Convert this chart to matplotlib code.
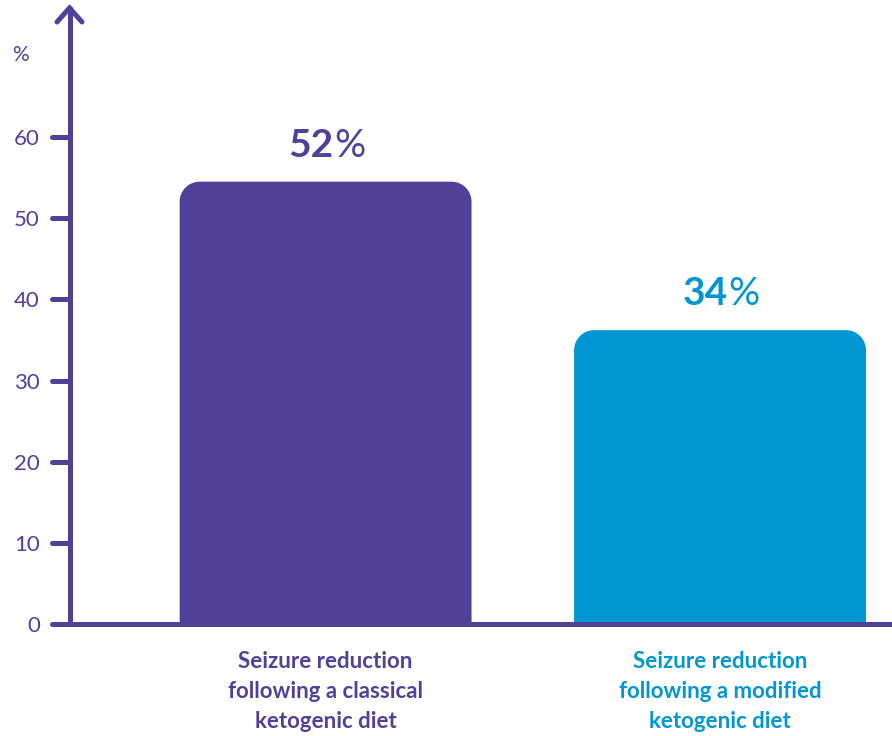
import matplotlib
matplotlib.use('Agg')
import matplotlib.pyplot as plt
from matplotlib.path import Path
from matplotlib.patches import PathPatch
from matplotlib.lines import Line2D

plt.rcParams['font.family'] = ['Lato', 'DejaVu Sans']

# data
categories = ['Seizure reduction\nfollowing a classical\nketogenic diet',
              'Seizure reduction\nfollowing a modified\nketogenic diet']
bar_heights = [54.5, 36.2]
value_labels = ['52', '34']
yticks = [0, 10, 20, 30, 40, 50, 60]

purple = '#51409A'
blue = '#0096D3'
colors = [purple, blue]

W, H = 892, 736
fig = plt.figure(figsize=(W / 100, H / 100), dpi=100)
ax = fig.add_axes([70 / W, 112 / H, 822 / W, 616 / H])

x = [0, 1]
bars = ax.bar(x, bar_heights, width=0.74, color=colors)
ax.set_xlim(-0.648, 1.436)
ax.set_ylim(0, 75.9)

# rounded top corners (about 20 px)
px_x = 394.5      # pixels per x unit
px_y = 8.117      # pixels per y unit
rx, ry = 20 / px_x, 20 / px_y
k = 0.5523
for b in bars:
    x0, y0 = b.get_x(), b.get_y()
    x1, y1 = x0 + b.get_width(), y0 + b.get_height()
    verts = [(x0, y0), (x0, y1 - ry),
             (x0, y1 - ry + k * ry), (x0 + rx - k * rx, y1), (x0 + rx, y1),
             (x1 - rx, y1),
             (x1 - rx + k * rx, y1), (x1, y1 - ry + k * ry), (x1, y1 - ry),
             (x1, y0), (x0, y0)]
    codes = [Path.MOVETO, Path.LINETO,
             Path.CURVE4, Path.CURVE4, Path.CURVE4,
             Path.LINETO,
             Path.CURVE4, Path.CURVE4, Path.CURVE4,
             Path.LINETO, Path.CLOSEPOLY]
    ax.add_patch(PathPatch(Path(verts, codes), facecolor=b.get_facecolor(),
                           edgecolor='none', zorder=2))
    b.set_visible(False)

# value labels: bold number + lighter percent sign
for xi, h, lab, c in zip(x, bar_heights, value_labels, colors):
    ax.annotate(lab, (xi, h), xytext=(7.5, 25), textcoords='offset pixels',
                ha='right', va='baseline', fontsize=28, fontweight='bold', color=c)
    ax.annotate('%', (xi, h), xytext=(8.5, 25), textcoords='offset pixels',
                ha='left', va='baseline', fontsize=28, fontweight='normal', color=c)

# category labels under the axis
for xi, cat, c in zip(x, categories, colors):
    for j, line in enumerate(cat.split('\n')):
        ax.annotate(line, (xi, 0), xytext=(0, -(37 + 30 * j)), textcoords='offset pixels',
                    ha='center', va='center', fontsize=16, fontweight='bold', color=c,
                    annotation_clip=False)

# axes styling
for s in ['top', 'right']:
    ax.spines[s].set_visible(False)
for s in ['left', 'bottom']:
    ax.spines[s].set_color(purple)
    ax.spines[s].set_linewidth(3.6)
    ax.spines[s].set_capstyle('round')
ax.set_xticks([])
ax.set_yticks(yticks)
ax.tick_params(axis='y', length=0, pad=21.6, labelsize=16, labelcolor=purple)

tr = ax.get_yaxis_transform()
for v in yticks:
    ax.plot([-18 / 822, 0], [v, v], transform=tr, color=purple, lw=3.6,
            solid_capstyle='round', clip_on=False)

# arrow head at top of y axis
fig.add_artist(Line2D([57 / W, 69.5 / W, 82 / W], [1 - 22 / H, 1 - 8 / H, 1 - 22 / H],
                      transform=fig.transFigure, color=purple, lw=3.6,
                      solid_capstyle='round', solid_joinstyle='miter'))

fig.text(20 / W, 1 - 55 / H, '%', ha='center', va='center', fontsize=15,
         color=purple)

fig.savefig('out.png', dpi=100)
